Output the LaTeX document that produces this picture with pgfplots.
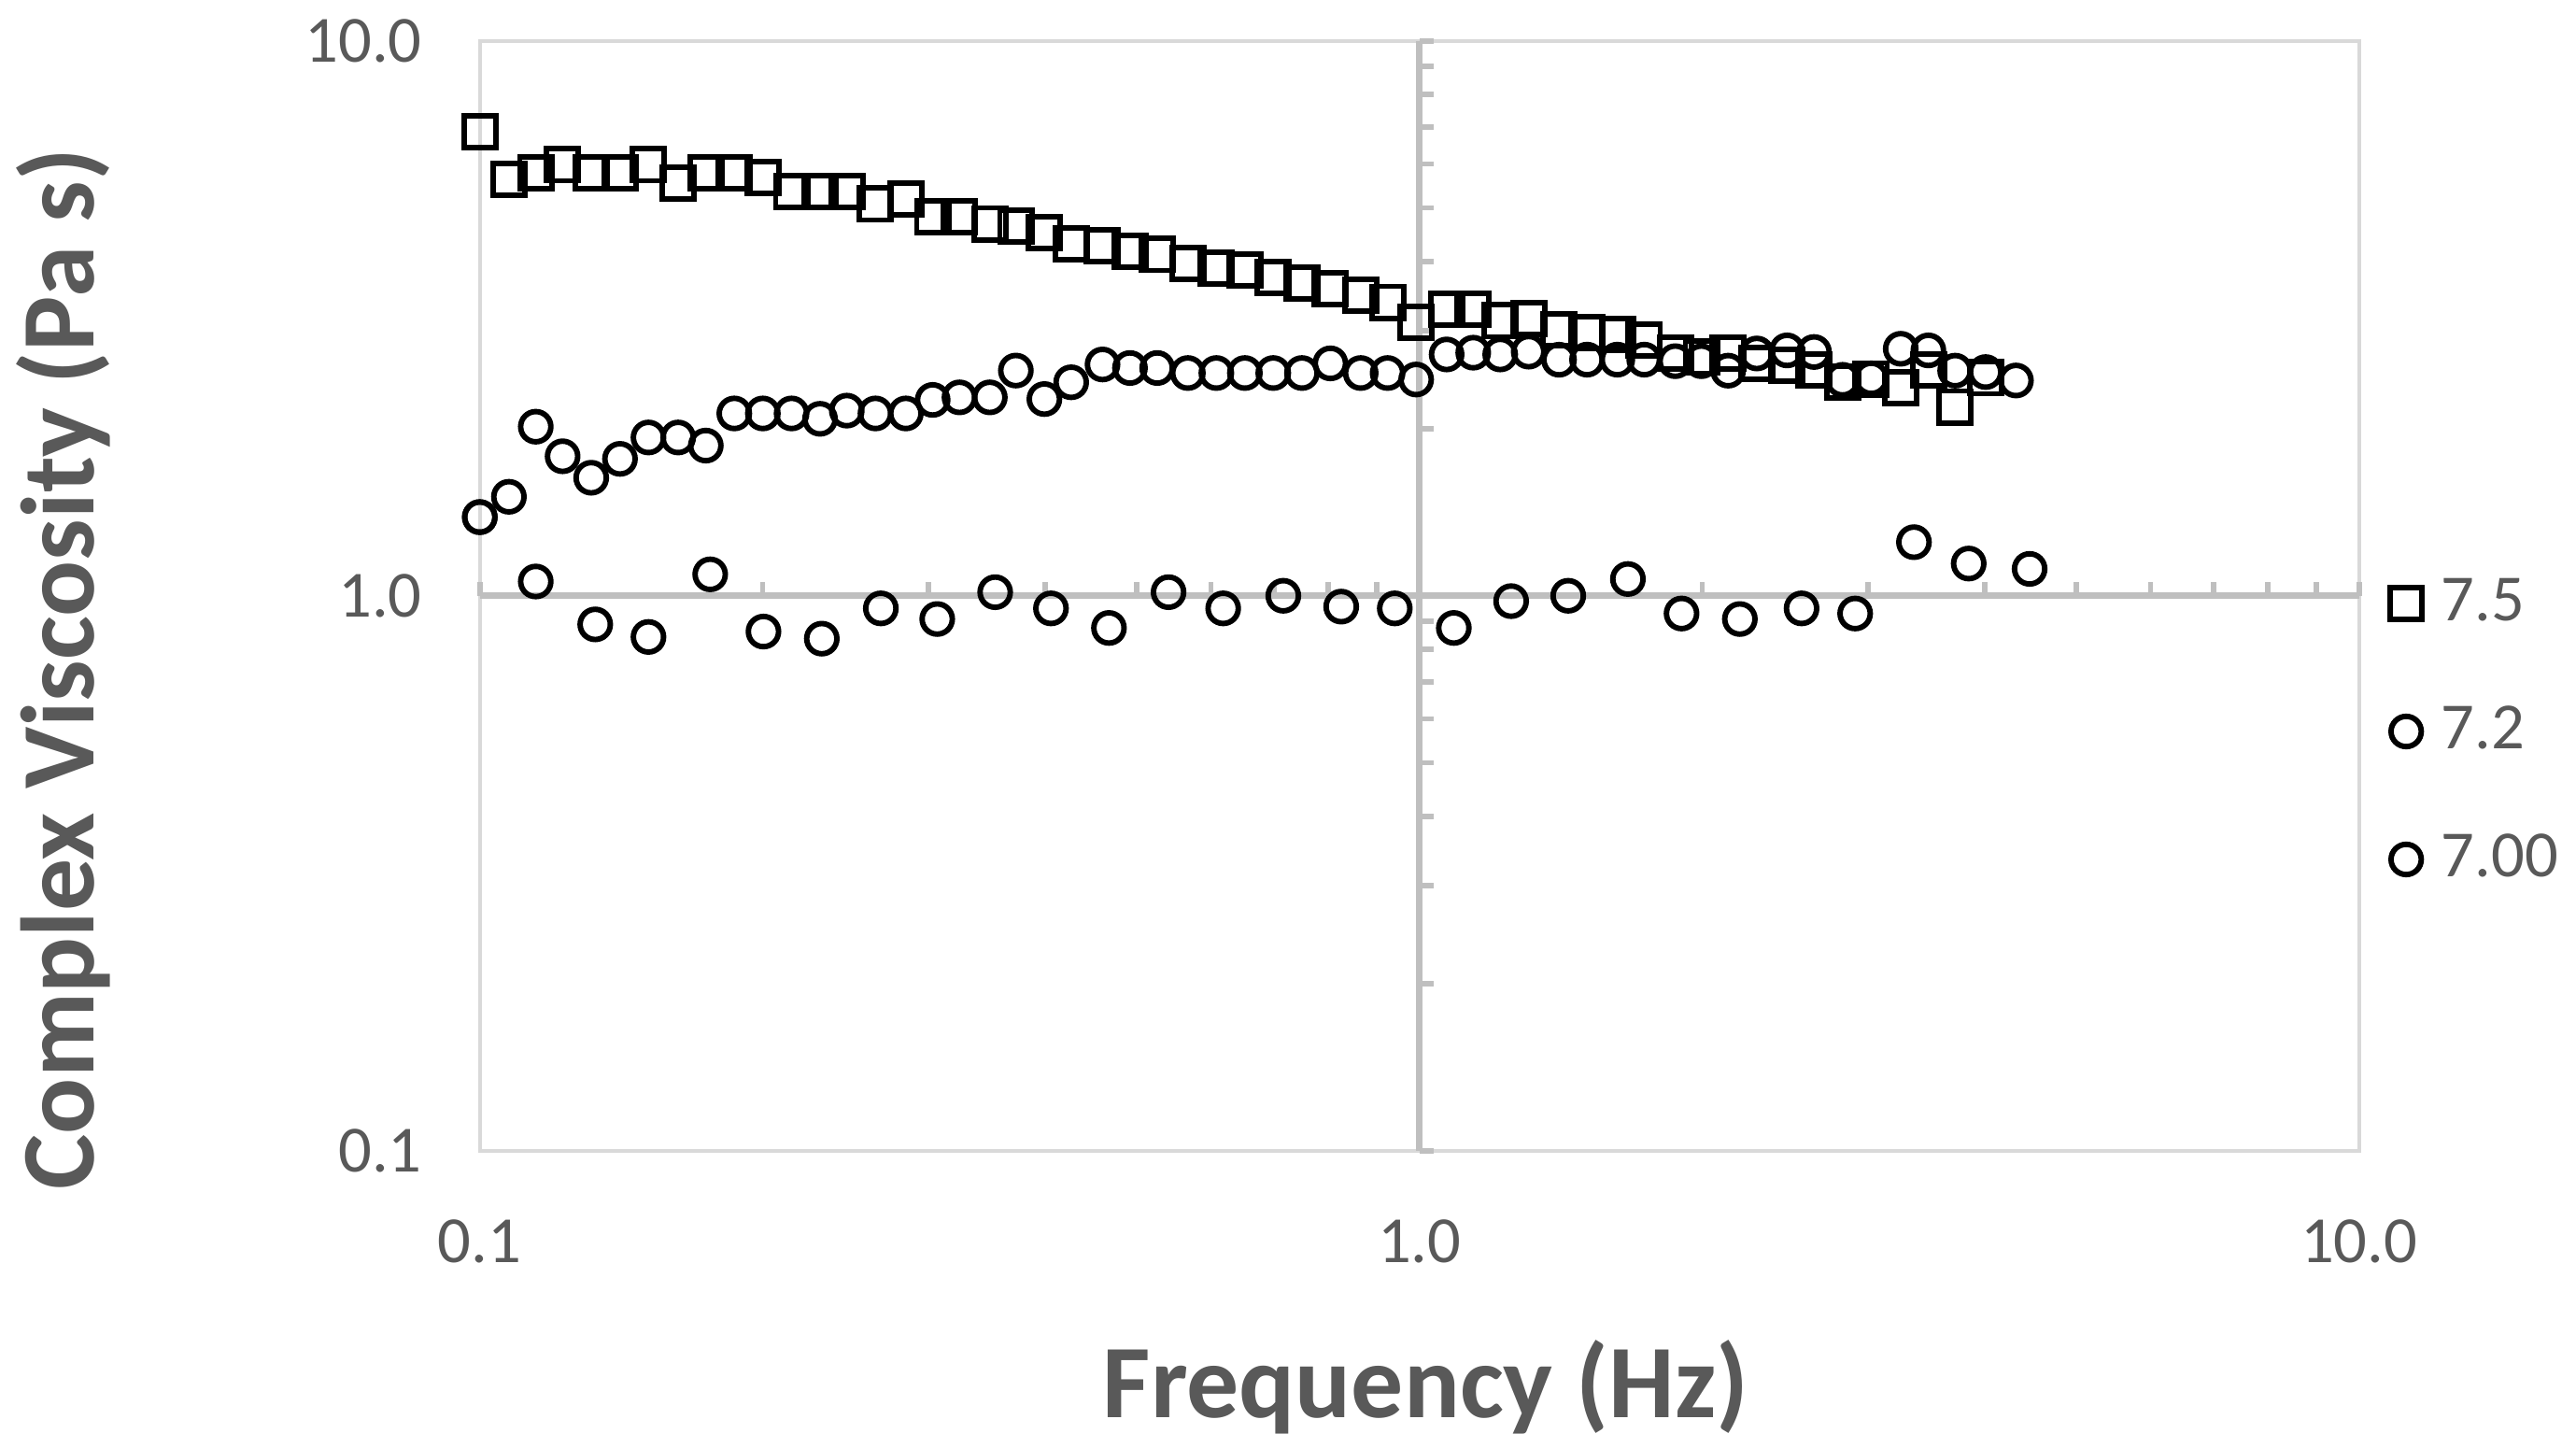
\documentclass[border=0pt]{standalone}
\usepackage{fontspec}
\setmainfont{Carlito}
\usepackage{pgfplots}
\usepackage{pgfplotstable}
\pgfplotsset{compat=1.18}
\definecolor{textgray}{HTML}{595959}
\definecolor{gridgray}{HTML}{D9D9D9}
\definecolor{axgray}{HTML}{BFBFBF}

\pgfplotstableread{
x y
0.1 6.85
0.1074 5.63
0.1147 5.78
0.1225 5.98
0.1314 5.78
0.141 5.78
0.1512 5.98
0.1626 5.55
0.174 5.78
0.1866 5.78
0.2001 5.67
0.2147 5.35
0.2302 5.35
0.2458 5.35
0.2637 5.08
0.2841 5.19
0.3034 4.82
0.324 4.82
0.349 4.68
0.372 4.64
0.399 4.51
0.426 4.31
0.460 4.28
0.492 4.18
0.526 4.12
0.567 3.97
0.608 3.89
0.652 3.86
0.699 3.75
0.750 3.66
0.804 3.58
0.866 3.48
0.925 3.38
0.992 3.11
1.069 3.28
1.141 3.28
1.219 3.13
1.307 3.16
1.408 3.02
1.508 2.98
1.624 2.96
1.735 2.89
1.872 2.74
1.996 2.69
2.131 2.74
2.286 2.62
2.462 2.60
2.630 2.55
2.821 2.43
3.026 2.46
3.253 2.37
3.481 2.55
3.717 2.19
4.005 2.47
}\sqdata

\pgfplotstableread{
x y
0.1 1.386
0.1074 1.508
0.1147 2.017
0.1225 1.784
0.1314 1.632
0.141 1.765
0.1512 1.929
0.1626 1.929
0.174 1.865
0.1866 2.131
0.2001 2.131
0.2147 2.131
0.2302 2.084
0.2458 2.156
0.2637 2.131
0.2841 2.131
0.3034 2.254
0.324 2.278
0.349 2.278
0.372 2.546
0.399 2.262
0.426 2.425
0.460 2.611
0.492 2.573
0.526 2.573
0.567 2.520
0.608 2.520
0.652 2.520
0.699 2.520
0.750 2.520
0.804 2.623
0.866 2.520
0.925 2.520
0.992 2.453
1.069 2.722
1.141 2.742
1.219 2.722
1.307 2.754
1.408 2.663
1.508 2.664
1.624 2.664
1.735 2.664
1.872 2.647
1.996 2.647
2.131 2.545
2.286 2.733
2.462 2.768
2.630 2.750
2.821 2.450
3.026 2.465
3.253 2.787
3.481 2.768
3.717 2.545
4.005 2.530
4.314 2.443
}\cirdata

\pgfplotstableread{
x y
0.1 1.386
0.1147 1.061
0.1327 0.888
0.1512 0.843
0.1759 1.093
0.2004 0.862
0.2312 0.837
0.2672 0.949
0.3068 0.908
0.3536 1.015
0.4054 0.949
0.4673 0.875
0.5408 1.015
0.6183 0.949
0.7164 1.000
0.8256 0.956
0.9414 0.949
1.088 0.875
1.252 0.978
1.440 1.000
1.667 1.072
1.901 0.929
2.193 0.908
2.551 0.949
2.909 0.929
3.360 1.249
3.843 1.143
4.461 1.118
}\lowdata

\begin{document}
\begin{tikzpicture}
\begin{axis}[
  scale only axis, width=342.04pt, height=201.96pt,
  xmode=log, ymode=log,
  xmin=0.1, xmax=10, ymin=0.1, ymax=10,
  xtick={0.1,1,10}, xticklabels={0.1,1.0,10.0},
  ytick={0.1,1,10}, yticklabels={0.1,1.0,10.0},
  xminorticks=false, yminorticks=false,
  major tick length=0pt,
  axis line style={gridgray, line width=0.7pt},
  grid=major, major grid style={gridgray, line width=0.7pt},
  /pgf/number format/assume math mode=true,
  tick label style={font=\fontsize{12}{14}\selectfont, text=textgray},
  yticklabel style={xshift=-7pt},
  xticklabel style={yshift=-9pt},
  xlabel={Frequency (Hz)},
  ylabel={Complex Viscosity (Pa s)},
  label style={font=\bfseries\fontsize{19}{22}\selectfont, text=textgray},
  xlabel style={at={(axis description cs:0.5035,-0.2402)}, anchor=base},
  ylabel style={at={(axis description cs:-0.2056,0.434)}, anchor=base},
  clip=false,
  legend style={at={(axis description cs:1.016,0.524)}, anchor=north west,
    draw=none, fill=none, inner sep=0pt, row sep=11pt, column sep=2pt,
    nodes={inner sep=1.5pt, text=textgray},
    font=\fontsize{12}{14}\selectfont},
  legend cell align=left,
  legend image code/.code={\draw[mark repeat=2,mark phase=2] plot coordinates {(-3.3pt,0pt) (0pt,0pt) (3.3pt,0pt)};},
]
\draw[axgray, line width=1.1pt] (axis cs:0.1,1) -- (axis cs:10,1);
\draw[axgray, line width=1.1pt] (axis cs:1,0.1) -- (axis cs:1,10);
\pgfplotsinvokeforeach{0.1,0.2,0.3,0.4,0.5,0.6,0.7,0.8,0.9,2,3,4,5,6,7,8,9,10}{
  \draw[axgray, line width=1pt] (axis cs:#1,1) -- ++(0pt,2.5pt);
  \draw[axgray, line width=1pt] (axis cs:1,#1) -- ++(2.6pt,0pt);
}
\addplot[only marks, mark=square, mark size=2.9pt, black, line width=1pt] table[x=x,y=y] {\sqdata};
\addlegendentry{7.5}
\addplot[only marks, mark=o, mark size=2.75pt, black, line width=1pt] table[x=x,y=y] {\cirdata};
\addlegendentry{7.2}
\addplot[only marks, mark=o, mark size=2.75pt, black, line width=1pt] table[x=x,y=y] {\lowdata};
\addlegendentry{7.00}
\coordinate (bl) at (rel axis cs:0,0);
\end{axis}
\pgfresetboundingbox
\path[use as bounding box] (bl) ++(-87.33pt,-53.94pt) rectangle ++(468.86pt,263.33pt);
\end{tikzpicture}
\end{document}
